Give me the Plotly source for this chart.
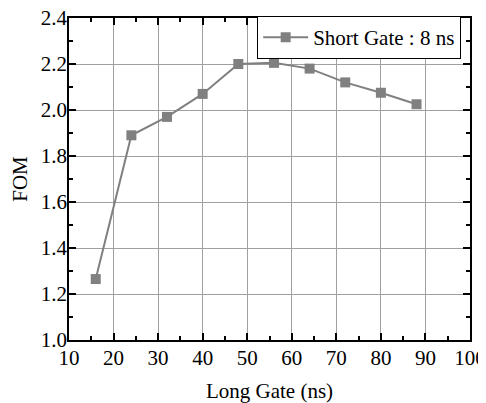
import plotly.graph_objects as go

long_gate = [16, 24, 32, 40, 48, 56, 64, 72, 80, 88]
fom = [1.265, 1.89, 1.97, 2.07, 2.20, 2.205, 2.18, 2.12, 2.075, 2.025]
series_name = "Short Gate : 8 ns"

fig = go.Figure()
fig.add_trace(go.Scatter(
    x=long_gate, y=fom, mode="lines+markers", name=series_name,
    line=dict(color="#808080", width=2),
    marker=dict(symbol="square", size=10, color="#808080"),
))

FAM = "Liberation Serif"
font = dict(family=FAM, size=21, color="black")
axis_common = dict(
    showline=True, linecolor="black", linewidth=1.5, mirror="ticks",
    ticks="inside", ticklen=7, tickwidth=1.5, tickcolor="black",
    showgrid=True, gridcolor="#a0a0a0", gridwidth=1.3,
    zeroline=False, tickfont=font, automargin=False, ticklabeloverflow="allow",
)
fig.update_xaxes(range=[10, 100], dtick=10, tick0=10, ticklabelstandoff=-2,
                 minor=dict(ticks="inside", ticklen=4, dtick=5, tick0=10, tickcolor="black", showgrid=False),
                 title=dict(text="Long Gate (ns)", font=font, standoff=22), **axis_common)
fig.update_yaxes(range=[1.0, 2.4], dtick=0.2, tick0=1.0, tickformat=".1f", ticklabelstandoff=-4,
                 minor=dict(ticks="inside", ticklen=4, dtick=0.1, tick0=1.0, tickcolor="black", showgrid=False),
                 title=dict(text="FOM", font=font, standoff=10), **axis_common)

# page body has an 8px margin: the figure starts at (8, 8) in the window
fig.update_layout(
    width=478, height=395,
    margin=dict(l=61, r=16, t=9, b=63),
    plot_bgcolor="white", paper_bgcolor="white",
    font=font, showlegend=True,
    legend=dict(x=0.978, y=0.9365, xanchor="right", yanchor="middle", itemwidth=45,
                bordercolor="black", borderwidth=1, bgcolor="white",
                font=dict(family=FAM, size=21, color="black")),
)
fig.write_html("out.html")
